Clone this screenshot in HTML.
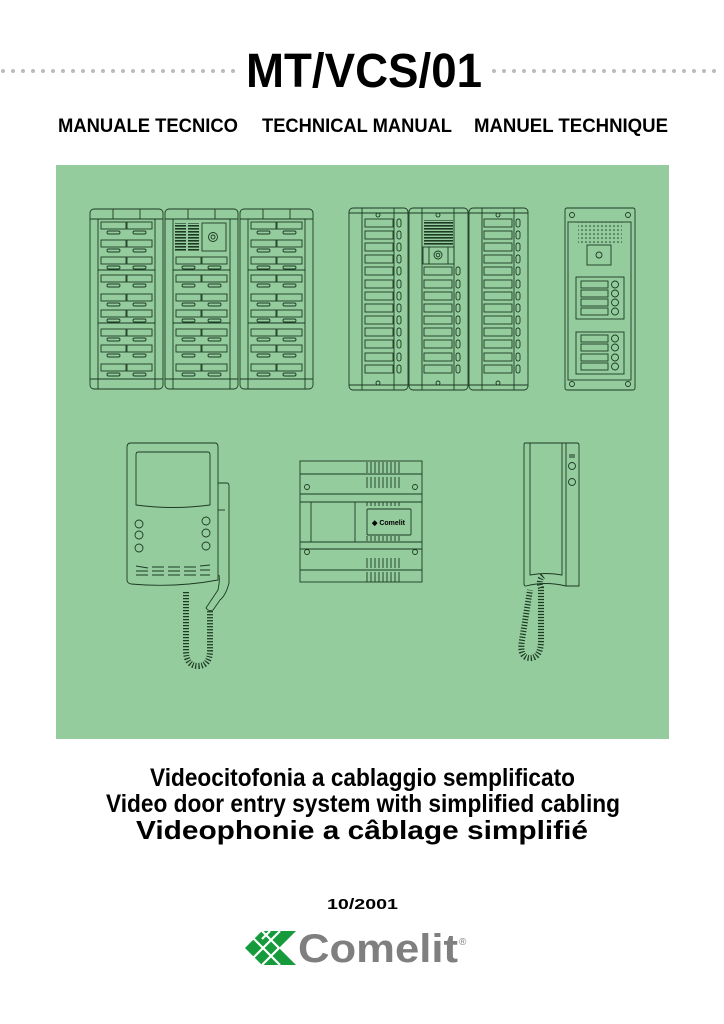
<!DOCTYPE html>
<html><head><meta charset="utf-8"><style>
html,body{margin:0;padding:0;background:#fff;}
svg{display:block;}
text{font-family:"Liberation Sans",sans-serif;font-weight:bold;fill:#000;}
</style></head><body>
<svg width="724" height="1024" viewBox="0 0 724 1024" xmlns="http://www.w3.org/2000/svg">
<defs>
  <g id="b1" fill="none" stroke="#1c3a22" stroke-width="0.9">
    <rect x="0" y="0" width="25" height="7"/><rect x="6" y="9" width="13" height="3" rx="1.5"/>
    <rect x="26" y="0" width="25" height="7"/><rect x="32" y="9" width="13" height="3" rx="1.5"/>
  </g>
  <g id="b2" fill="none" stroke="#1c3a22" stroke-width="0.9">
    <rect x="0" y="0" width="28" height="8"/><rect x="32" y="0" width="4" height="8" rx="2"/>
  </g>
  <g id="b3" fill="none" stroke="#1c3a22" stroke-width="0.9">
    <rect x="0" y="0" width="27" height="7"/><circle cx="34" cy="3.5" r="3.5"/>
  </g>
  <g id="m1" fill="none" stroke="#1c3a22" stroke-width="0.9">
    <rect x="0" y="0" width="73" height="180" rx="4"/>
    <rect x="23" y="0" width="27" height="10"/>
    <rect x="8" y="10" width="57" height="170"/>
    <line x1="0" y1="10" x2="73" y2="10"/>
    <line x1="0" y1="170" x2="73" y2="170"/>
    <line x1="8" y1="61" x2="65" y2="61"/><line x1="8" y1="114" x2="65" y2="114"/>
  </g>
  <g id="m2" fill="none" stroke="#1c3a22" stroke-width="0.9">
    <rect x="0" y="0" width="59" height="182" rx="4"/>
    <line x1="13" y1="0" x2="13" y2="182"/><line x1="45" y1="0" x2="45" y2="182"/>
    <line x1="0" y1="5" x2="59" y2="5"/><line x1="0" y1="177" x2="59" y2="177"/>
    <circle cx="29" cy="7" r="2"/><circle cx="29" cy="175" r="2"/>
  </g>
  <pattern id="grille" width="3" height="3" patternUnits="userSpaceOnUse"><rect width="3" height="1.6" fill="#1c3a22"/></pattern>
  <pattern id="dots" width="4" height="4" patternUnits="userSpaceOnUse"><circle cx="2" cy="2" r="0.8" fill="#1c3a22"/></pattern>
</defs>

<line x1="3" y1="71" x2="240" y2="71" stroke="#bbb" stroke-width="4" stroke-linecap="round" stroke-dasharray="0 10"/>
<line x1="494" y1="71" x2="724" y2="71" stroke="#bbb" stroke-width="4" stroke-linecap="round" stroke-dasharray="0 10"/>
<text x="246" y="87" font-size="48" textLength="236" lengthAdjust="spacingAndGlyphs">MT/VCS/01</text>
<text x="58" y="132" font-size="19" textLength="180" lengthAdjust="spacingAndGlyphs">MANUALE TECNICO</text>
<text x="262" y="132" font-size="19" textLength="190" lengthAdjust="spacingAndGlyphs">TECHNICAL MANUAL</text>
<text x="474" y="132" font-size="19" textLength="194" lengthAdjust="spacingAndGlyphs">MANUEL TECHNIQUE</text>

<rect x="56" y="165" width="613" height="574" fill="#95cc9e"/>

<g fill="none" stroke="#1c3a22" stroke-width="0.9">
<use href="#m1" x="90" y="209"/><use href="#m1" x="165" y="209"/><use href="#m1" x="240" y="209"/>
<g>
<use href="#b1" x="101" y="222"/><use href="#b1" x="101" y="240"/><use href="#b1" x="101" y="257"/><use href="#b1" x="101" y="275"/><use href="#b1" x="101" y="294"/><use href="#b1" x="101" y="310"/><use href="#b1" x="101" y="329"/><use href="#b1" x="101" y="345"/><use href="#b1" x="101" y="364"/>
<use href="#b1" x="251" y="222"/><use href="#b1" x="251" y="240"/><use href="#b1" x="251" y="257"/><use href="#b1" x="251" y="275"/><use href="#b1" x="251" y="294"/><use href="#b1" x="251" y="310"/><use href="#b1" x="251" y="329"/><use href="#b1" x="251" y="345"/><use href="#b1" x="251" y="364"/>
<use href="#b1" x="176" y="257"/><use href="#b1" x="176" y="275"/><use href="#b1" x="176" y="294"/><use href="#b1" x="176" y="310"/><use href="#b1" x="176" y="329"/><use href="#b1" x="176" y="345"/><use href="#b1" x="176" y="364"/>
</g>
<rect x="175" y="223" width="11" height="28" fill="url(#grille)" stroke="none"/>
<rect x="188" y="223" width="11" height="28" fill="url(#grille)" stroke="none"/>
<rect x="202" y="223" width="24" height="28"/>
<circle cx="213" cy="237" r="4.5"/><circle cx="213" cy="237" r="2"/>

<use href="#m2" x="349" y="208"/><use href="#m2" x="409" y="208"/><use href="#m2" x="469" y="208"/>
<use href="#b2" x="365" y="219"/><use href="#b2" x="365" y="231"/><use href="#b2" x="365" y="243"/><use href="#b2" x="365" y="255"/><use href="#b2" x="365" y="267"/><use href="#b2" x="365" y="280"/><use href="#b2" x="365" y="292"/><use href="#b2" x="365" y="304"/><use href="#b2" x="365" y="316"/><use href="#b2" x="365" y="328"/><use href="#b2" x="365" y="340"/><use href="#b2" x="365" y="353"/><use href="#b2" x="365" y="365"/>
<use href="#b2" x="484" y="219"/><use href="#b2" x="484" y="231"/><use href="#b2" x="484" y="243"/><use href="#b2" x="484" y="255"/><use href="#b2" x="484" y="267"/><use href="#b2" x="484" y="280"/><use href="#b2" x="484" y="292"/><use href="#b2" x="484" y="304"/><use href="#b2" x="484" y="316"/><use href="#b2" x="484" y="328"/><use href="#b2" x="484" y="340"/><use href="#b2" x="484" y="353"/><use href="#b2" x="484" y="365"/>
<use href="#b2" x="424" y="267"/><use href="#b2" x="424" y="280"/><use href="#b2" x="424" y="292"/><use href="#b2" x="424" y="304"/><use href="#b2" x="424" y="316"/><use href="#b2" x="424" y="328"/><use href="#b2" x="424" y="340"/><use href="#b2" x="424" y="353"/><use href="#b2" x="424" y="365"/>
<rect x="424" y="220" width="29" height="25" fill="url(#grille)" stroke="none"/>
<rect x="423" y="247" width="31" height="17"/><line x1="429" y1="247" x2="429" y2="264"/><line x1="448" y1="247" x2="448" y2="264"/>
<circle cx="438" cy="255" r="4"/><circle cx="438" cy="255" r="1.8"/>

<rect x="565" y="208" width="70" height="182" rx="2"/>
<rect x="568" y="222" width="63" height="158"/>
<circle cx="572" cy="215" r="2.5"/><circle cx="628" cy="215" r="2.5"/><circle cx="572" cy="384" r="2.5"/><circle cx="628" cy="384" r="2.5"/>
<rect x="578" y="222" width="44" height="22" fill="url(#dots)" stroke="none"/>
<rect x="587" y="245" width="24" height="20"/><circle cx="599" cy="255" r="3"/>
<rect x="576" y="277" width="48" height="42"/>
<use href="#b3" x="581" y="281"/><use href="#b3" x="581" y="290"/><use href="#b3" x="581" y="299"/><use href="#b3" x="581" y="308"/>
<rect x="576" y="332" width="48" height="42"/>
<use href="#b3" x="581" y="335"/><use href="#b3" x="581" y="344"/><use href="#b3" x="581" y="354"/><use href="#b3" x="581" y="363"/>

<path d="M131,443 H215 Q218,443 218,447 V580 Q175,588 131,584 Q127,583 127,580 V447 Q127,443 131,443 Z"/>
<path d="M138,452 H208 Q210,452 210,455 V505 Q173,510 136,505 V455 Q136,452 138,452 Z"/>
<circle cx="139" cy="524" r="4"/><circle cx="139" cy="535" r="4"/><circle cx="139" cy="548" r="4"/>
<circle cx="206" cy="521" r="4"/><circle cx="206" cy="533" r="4"/><circle cx="206" cy="546" r="4"/>
<path d="M136,566 l12,2 M136,571 h12 M136,575 h12 M152,567 h12 M152,571 h12 M152,575 h12 M168,567 h12 M168,571 h12 M168,575 h12 M184,567 h12 M184,571 h12 M184,575 h12 M200,566 l10,-1 M200,570 h10 M200,575 h10"/>
<path d="M218,483 H227 Q229,483 229,486 V583 Q226,595 220,600 L213,610 Q209,612 206,608 L218,590 Q220,580 219,575"/>
<line x1="218" y1="510" x2="225" y2="510"/>
<path d="M186,592 V650 Q186,666 198,666 Q210,666 210,650 V610" stroke-width="6" stroke-dasharray="1.2 1.8"/>

<rect x="300" y="461" width="122" height="121"/>
<path d="M300,474 H422 M300,494 H422 M300,502 H422 M300,542 H422 M300,549 H422 M300,570 H422 M311,502 V542 M355,502 V542"/>
<rect x="367" y="509" width="44" height="26" rx="1"/>
<text x="372" y="525" font-size="7" fill="#1c3a22" stroke="none">◆ Comelit</text>
<circle cx="307" cy="487" r="2.5"/><circle cx="415" cy="487" r="2.5"/><circle cx="307" cy="552" r="2.5"/><circle cx="415" cy="552" r="2.5"/>
<path d="M367,462 v11 m4,-11 v11 m4,-11 v11 m4,-11 v11 m4,-11 v11 m4,-11 v11 m4,-11 v11 m4,-11 v11 m4,-11 v11 M367,477 v11 m4,-11 v11 m4,-11 v11 m4,-11 v11 m4,-11 v11 m4,-11 v11 m4,-11 v11 m4,-11 v11 m4,-11 v11 M367,502 v4 m4,-4 v4 m4,-4 v4 m4,-4 v4 m4,-4 v4 m4,-4 v4 m4,-4 v4 m4,-4 v4 m4,-4 v4 M367,536 v5 m4,-5 v5 m4,-5 v5 m4,-5 v5 m4,-5 v5 m4,-5 v5 m4,-5 v5 m4,-5 v5 m4,-5 v5 M367,558 v10 m4,-10 v10 m4,-10 v10 m4,-10 v10 m4,-10 v10 m4,-10 v10 m4,-10 v10 m4,-10 v10 m4,-10 v10 M367,572 v10 m4,-10 v10 m4,-10 v10 m4,-10 v10 m4,-10 v10 m4,-10 v10 m4,-10 v10 m4,-10 v10 m4,-10 v10"/>

<path d="M525,443 H577 Q579,443 579,445 V586 H566 Q545,581 526,586 Q524,586 524,584 V445 Q524,443 525,443 Z"/>
<path d="M530,443 V575 Q546,572 562,575 V443"/>
<line x1="566" y1="443" x2="566" y2="586"/>
<path d="M569,455 h6 M569,457 h6" />
<circle cx="572" cy="466" r="3.5"/><circle cx="572" cy="482" r="3.5"/>
<path d="M543,576 Q538,580 541,588 V640 Q541,658 530,658 Q519,658 522,640 L530,590" stroke-width="6" stroke-dasharray="1.2 1.8"/>
</g>

<text x="150" y="786" font-size="25" textLength="425" lengthAdjust="spacingAndGlyphs">Videocitofonia a cablaggio semplificato</text>
<text x="106" y="812" font-size="25" textLength="514" lengthAdjust="spacingAndGlyphs">Video door entry system with simplified cabling</text>
<text x="136" y="839" font-size="26" textLength="452" lengthAdjust="spacingAndGlyphs">Videophonie a câblage simplifié</text>
<text x="327" y="909" font-size="15" textLength="71" lengthAdjust="spacingAndGlyphs">10/2001</text>

<g>
  <polygon points="245,948 262,931 296,931 279,948 296,965 262,965" fill="#159a3c"/>
  <g stroke="#fff" stroke-width="2.2">
    <line x1="254" y1="939" x2="280" y2="965"/>
    <line x1="262" y1="931" x2="279" y2="948"/>
    <line x1="254" y1="957" x2="280" y2="931"/>
    <line x1="262" y1="965" x2="279" y2="948"/>
    <line x1="270" y1="931" x2="262" y2="939"/>
  </g>
</g>
<text x="298" y="962" font-size="40" style="fill:#7f7f7f" textLength="160" lengthAdjust="spacingAndGlyphs">Comelit</text>
<text x="459" y="945" font-size="10" style="fill:#7f7f7f;font-weight:normal">®</text>
</svg>
</body></html>
